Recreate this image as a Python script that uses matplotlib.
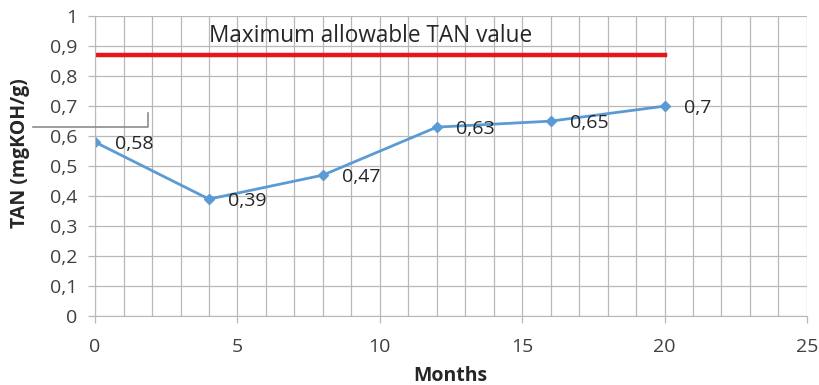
import matplotlib.pyplot as plt
from matplotlib.lines import Line2D
import numpy as np

# datos de la medición
meses = [0, 4, 8, 12, 16, 20]
tan = [0.58, 0.39, 0.47, 0.63, 0.65, 0.70]
tan_max = 0.87  # valor máximo permitido
meses_max = [0, 20]

plt.rcParams['font.family'] = ['Open Sans', 'DejaVu Sans']
GRIS = "#b8b8b8"
TEXTO = "#404040"

fig = plt.figure(figsize=(8.2, 3.85), dpi=100)
ax = fig.add_axes([0.116, 0.179, 0.868, 0.779])

# cuadrícula cada mes y cada 0,1
ax.set_xticks(np.arange(0, 26, 1), minor=True)
ax.set_xticks(np.arange(0, 26, 5))
ax.set_yticks(np.arange(0, 1.01, 0.1))
ax.grid(True, which="both", color=GRIS, linewidth=0.9)
ax.set_axisbelow(True)

ax.plot(meses_max, [tan_max, tan_max], color="#e8141a", linewidth=3.2)
ax.text(4, 0.915, "Maximum allowable TAN value", fontsize=16.3,
        color="#262626", va="baseline", ha="left")

ax.plot(meses, tan, color="#5b9bd5", linewidth=2, marker="D", markersize=5.5)
for m, v in zip(meses, tan):
    etiqueta = ("%g" % v).replace(".", ",")
    ax.annotate(etiqueta, (m, v), xytext=(14, -1.5), textcoords="offset points",
                fontsize=14, color="#262626", va="center", ha="left")

ax.set_xlim(0, 25)
ax.set_ylim(0, 1)
ax.set_yticklabels([("%g" % t).replace(".", ",") for t in np.arange(0, 1.01, 0.1)])
ax.tick_params(axis="both", which="major", labelsize=14, colors=GRIS,
               labelcolor=TEXTO, length=5, width=0.9)
ax.tick_params(axis="y", which="major", pad=8)
ax.tick_params(axis="x", which="major", pad=11)
ax.tick_params(axis="x", which="minor", length=0)
for lado in ["top", "right"]:
    ax.spines[lado].set_visible(False)
for lado in ["left", "bottom"]:
    ax.spines[lado].set_color(GRIS)

ax.set_xlabel("Months", fontsize=14, fontweight="bold", color="#262626")
ax.xaxis.set_label_coords(0.499, -0.165)
ax.set_ylabel("TAN (mgKOH/g)", fontsize=14, fontweight="bold", color="#262626")
ax.yaxis.set_label_coords(-0.091, 0.545)

# resto de un cuadro de texto
fig.add_artist(Line2D([0.040, 0.181, 0.181], [0.670, 0.670, 0.707],
                      color="#8c8c8c", linewidth=1.2))

fig.savefig("out.png", dpi=100)
